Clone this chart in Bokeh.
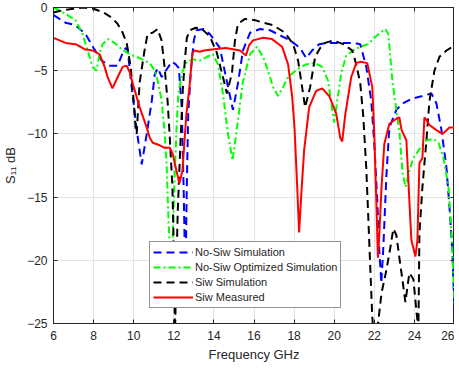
from bokeh.plotting import figure
from bokeh.models import Range1d, LinearAxis, Legend, LegendItem, FixedTicker
from bokeh.embed import file_html
from bokeh.resources import INLINE

# ---- data ----
x_ticks = [6, 8, 10, 12, 14, 16, 18, 20, 22, 24, 26]
y_ticks = [-25, -20, -15, -10, -5, 0]

nosiw_x = [6.0, 6.6, 7.1, 7.6, 8.0, 8.4, 8.8, 9.2, 9.45, 9.6, 9.7, 9.9, 10.15, 10.4, 10.65, 10.9,
           11.05, 11.2, 11.4, 11.6, 11.9, 12.1, 12.25, 12.4, 12.5, 12.58, 12.65, 12.72, 12.85, 13.0,
           13.13, 13.5, 13.8, 14.3, 14.6, 14.95, 15.2, 15.45, 15.8, 16.3, 16.8, 17.3, 17.8, 18.3,
           18.6, 18.9, 19.25, 19.7, 20.5, 21.0, 21.3, 21.6, 21.85, 22.0, 22.15, 22.25, 22.35, 22.45,
           22.6, 22.75, 23.1, 23.4, 23.9, 24.4, 24.85, 25.1, 25.35, 25.6, 25.75, 25.9, 26.0]
nosiw_y = [-0.6, -1.2, -1.4, -2.1, -3.2, -4.2, -4.6, -4.6, -3.6, -3.2, -3.4, -6.3, -9.7, -12.4, -10.0, -7.4,
           -5.3, -4.8, -5.5, -5.0, -4.3, -4.5, -4.8, -8.0, -15.0, -22.0, -14.0, -8.4, -5.0, -2.6,
           -1.8, -1.7, -2.1, -3.2, -5.5, -8.1, -6.0, -3.4, -2.0, -1.7, -1.8, -2.2, -2.6, -3.2,
           -4.0, -3.4, -2.9, -2.8, -2.8, -2.8, -2.9, -4.7, -7.4, -10.8, -15.3, -19.2, -21.8, -19.0,
           -13.4, -9.5, -8.1, -7.6, -7.2, -7.0, -6.8, -7.6, -9.7, -12.7, -15.8, -19.5, -24.2]

opt_x = [6.0, 6.6, 7.1, 7.45, 7.7, 7.95, 8.15, 8.3, 8.45, 8.7, 9.05, 9.4, 9.8, 10.3, 10.8, 11.05,
         11.2, 11.4, 11.55, 11.65, 11.7, 11.78, 11.85, 11.95, 12.05, 12.15, 12.22, 12.4, 12.65,
         12.95, 13.3, 13.65, 13.95, 14.2, 14.45, 14.7, 14.93, 15.18, 15.43, 15.8, 16.15, 16.45,
         16.7, 16.95, 17.2, 17.45, 17.7, 18.15, 18.6, 19.05, 19.4, 19.7, 19.9, 20.0, 20.15, 20.35,
         20.6, 20.95, 21.3, 21.7, 22.0, 22.3, 22.55, 22.7, 22.9, 23.1, 23.26, 23.41, 23.56, 23.75,
         23.95, 24.3, 24.6, 24.95, 25.2, 25.45, 25.7, 25.85, 25.95, 26.0]
opt_y = [0.0, -0.5, -1.0, -2.1, -3.4, -4.7, -5.0, -3.6, -2.9, -2.5, -2.8, -3.3, -3.7, -4.0, -4.4, -5.0,
         -5.8, -7.4, -10.0, -12.7, -15.3, -18.4, -22.5, -18.0, -13.0, -9.0, -7.0, -5.2, -4.3,
         -4.1, -4.2, -3.9, -3.7, -4.5, -6.8, -10.0, -12.1, -9.2, -6.0, -3.7, -3.1, -3.9,
         -5.0, -6.3, -7.0, -6.3, -5.5, -4.9, -4.5, -4.4, -4.7, -5.8, -8.1, -9.1, -7.4, -5.2,
         -3.8, -3.4, -3.1, -2.9, -2.4, -2.0, -1.7, -2.1, -5.8, -8.1, -10.0, -13.1, -14.2, -12.9,
         -11.9, -11.1, -10.5, -10.4, -10.7, -11.9, -14.2, -17.9, -21.4, -23.4]

siw_x = [6.0, 6.5, 7.0, 7.5, 8.0, 8.5, 8.9, 9.2, 9.45, 9.65, 9.85, 10.0, 10.1, 10.15, 10.29, 10.54,
         10.69, 10.94, 11.19, 11.39, 11.54, 11.69, 11.79, 11.93, 12.0, 12.06, 12.12, 12.2, 12.35,
         12.45, 12.55, 12.65, 12.8, 13.1, 13.4, 13.8, 14.15, 14.45, 14.65, 14.9, 15.05, 15.2, 15.55,
         16.05, 16.45, 16.95, 17.55, 17.95, 18.2, 18.4, 18.55, 18.8, 19.05, 19.3, 19.55, 19.95,
         20.45, 20.9, 21.1, 21.3, 21.45, 21.6, 21.7, 21.8, 21.9, 22.0, 22.15, 22.36, 22.6, 22.8,
         22.95, 23.1, 23.25, 23.4, 23.55, 23.75, 23.95, 24.1, 24.2, 24.25, 24.4, 24.6, 24.75, 25.0,
         25.25, 25.6, 25.9, 26.0]
siw_y = [-0.4, -0.2, -0.1, 0.0, -0.1, -0.4, -0.8, -1.3, -2.0, -2.8, -4.7, -7.4, -9.7, -10.0, -6.0, -3.4,
         -2.1, -2.0, -1.7, -2.6, -4.7, -7.4, -10.0, -14.2, -19.0, -26.0, -21.0, -16.0, -10.0,
         -6.5, -4.2, -2.4, -1.8, -1.6, -1.7, -2.3, -3.6, -5.5, -6.8, -5.2, -2.6, -1.3, -0.9,
         -1.0, -1.2, -1.4, -2.0, -2.9, -4.2, -6.3, -7.9, -6.3, -3.9, -3.2, -2.8, -2.6,
         -2.9, -3.4, -4.5, -6.0, -8.6, -12.7, -16.6, -20.6, -24.5, -26.5, -25.5, -22.6, -20.8, -19.0,
         -17.5, -18.0, -19.8, -21.5, -23.3, -21.0, -21.5, -24.0, -25.5, -17.9, -14.2, -10.5, -7.4, -5.0,
         -3.9, -3.4, -3.1, -2.8]

meas_x = [6.0, 6.6, 7.1, 7.55, 7.95, 8.3, 8.55, 8.7, 8.94, 9.2, 9.45, 9.65, 9.8, 9.95, 10.3, 10.65,
          10.8, 10.95, 11.3, 11.55, 11.8, 11.95, 12.13, 12.28, 12.43, 12.63, 12.78, 12.93, 13.03,
          13.3, 13.5, 14.0, 14.6, 15.3, 15.6, 15.75, 15.95, 16.2, 16.45, 16.9, 17.4, 17.7, 17.9,
          18.02, 18.15, 18.25, 18.35, 18.5, 18.75, 19.1, 19.4, 19.75, 20.1, 20.3, 20.4, 20.55,
          20.85, 21.1, 21.3, 21.65, 21.9, 22.0, 22.1, 22.18, 22.25, 22.36, 22.5, 22.75, 23.1,
          23.25, 23.36, 23.6, 23.75, 23.85, 24.05, 24.15, 24.25, 24.4, 24.5, 24.6, 24.75, 25.1,
          25.4, 25.75, 26.0]
meas_y = [-2.4, -2.8, -2.9, -3.3, -3.4, -3.7, -4.7, -5.5, -6.4, -5.5, -4.7, -4.6, -5.1, -6.0, -7.9, -9.5,
          -10.3, -10.7, -10.9, -11.1, -11.1, -11.6, -12.9, -13.9, -12.9, -8.4, -6.3, -3.6, -3.4,
          -3.5, -3.4, -3.3, -3.2, -3.4, -3.8, -3.0, -2.6, -2.5, -2.4, -2.5, -3.1, -4.5, -7.0,
          -9.5, -14.0, -17.8, -15.0, -11.3, -7.9, -6.6, -6.4, -7.0, -8.4, -10.3, -10.6, -8.5,
          -5.5, -4.4, -4.3, -4.4, -6.3, -10.0, -15.3, -19.8, -18.0, -14.2, -10.8, -9.2, -8.8,
          -8.7, -9.7, -10.5, -15.3, -18.4, -19.7, -18.4, -12.3, -11.9, -8.7, -8.9, -9.3, -9.7,
          -10.0, -9.5, -9.5]

labels = ["No-Siw Simulation", "No-Siw Optimized Simulation", "Siw Simulation", "Siw Measured"]

FONT = "Liberation Sans"
INK = "#262626"

p = figure(frame_width=401, frame_height=316, output_backend="svg", toolbar_location=None,
           x_range=Range1d(6, 26), y_range=Range1d(-25, 0),
           min_border_left=46, min_border_right=0, min_border_top=7, min_border_bottom=40,
           background_fill_color="white", border_fill_color="white")
p.outline_line_color = INK
p.outline_line_width = 1

for ax in (p.xaxis[0], p.yaxis[0]):
    ax.major_tick_in = 4
    ax.major_tick_out = 0
    ax.minor_tick_line_color = None
    ax.axis_line_color = INK
    ax.major_tick_line_color = INK
    ax.major_label_text_font = FONT
    ax.major_label_text_font_size = "12px"
    ax.major_label_text_color = INK
    ax.axis_label_text_font = FONT
    ax.axis_label_text_font_size = "13px"
    ax.axis_label_text_font_style = "normal"
    ax.axis_label_text_color = INK

p.xaxis[0].ticker = FixedTicker(ticks=x_ticks)
p.yaxis[0].ticker = FixedTicker(ticks=y_ticks)
p.xaxis[0].axis_label = "Frequency GHz"
p.yaxis[0].axis_label = "S\u2081\u2081 dB"
p.xaxis[0].major_label_standoff = 7
p.xaxis[0].axis_label_standoff = 4
p.yaxis[0].major_label_standoff = 6
p.yaxis[0].axis_label_standoff = 6

for loc, tks in (("right", y_ticks), ("above", x_ticks)):
    a = LinearAxis(ticker=FixedTicker(ticks=tks), major_tick_in=4, major_tick_out=0,
                   minor_tick_line_color=None, major_label_text_font_size="0px",
                   major_label_text_color=None, major_label_text_alpha=0,
                   major_label_standoff=0, axis_label_standoff=0,
                   axis_line_color=INK, major_tick_line_color=INK)
    p.add_layout(a, loc)

p.xgrid.ticker = FixedTicker(ticks=x_ticks)
p.ygrid.ticker = FixedTicker(ticks=y_ticks)
p.xgrid.grid_line_color = "#e3e3e3"
p.ygrid.grid_line_color = "#e3e3e3"

r1 = p.line(nosiw_x, nosiw_y, line_color="#0000ff", line_width=2, line_dash="8 5")
r2 = p.line(opt_x, opt_y, line_color="#00ff00", line_width=2, line_dash="7 3 2 3")
r3 = p.line(siw_x, siw_y, line_color="#000000", line_width=2, line_dash="8 5")
r4 = p.line(meas_x, meas_y, line_color="#ff0000", line_width=2)

legend = Legend(items=[LegendItem(label=labels[0], renderers=[r1]),
                       LegendItem(label=labels[1], renderers=[r2]),
                       LegendItem(label=labels[2], renderers=[r3]),
                       LegendItem(label=labels[3], renderers=[r4])],
                location=(96, 15))
legend.label_text_font = FONT
legend.label_text_font_size = "11px"
legend.label_text_color = INK
legend.glyph_width = 40
legend.glyph_height = 14
legend.label_height = 14
legend.spacing = 1
legend.padding = 3
legend.margin = 0
legend.label_standoff = 2
legend.border_line_color = INK
legend.border_line_width = 1
legend.background_fill_alpha = 1.0
p.add_layout(legend, "center")

open("out.html", "w").write(file_html(p, INLINE))
